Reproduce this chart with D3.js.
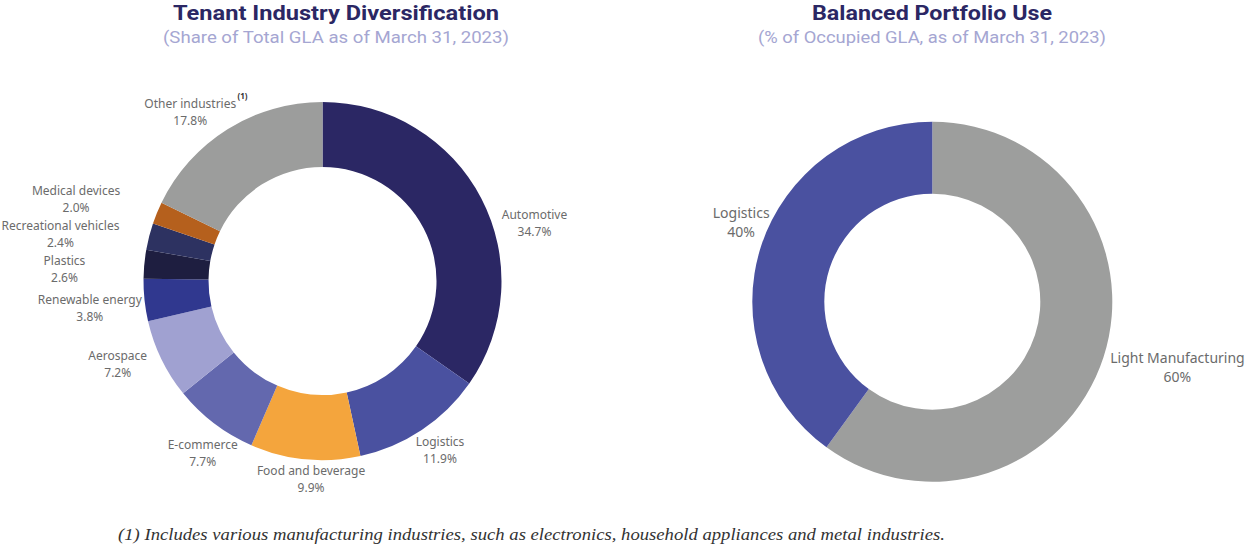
<!DOCTYPE html>
<html>
<head>
<meta charset="utf-8">
<script src="https://cdn.jsdelivr.net/npm/d3@7"></script>
<style>
  html, body { margin: 0; padding: 0; background: #ffffff; }
  svg { display: block; }
</style>
</head>
<body>
<svg id="chart" width="1246" height="546"></svg>
<script>
// ---- Data ----
const industryNames = ["Automotive", "Logistics", "Food and beverage", "E-commerce", "Aerospace",
  "Renewable energy", "Plastics", "Recreational vehicles", "Medical devices", "Other industries"];
const industryShares = [34.7, 11.9, 9.9, 7.7, 7.2, 3.8, 2.6, 2.4, 2.0, 17.8];
const industryLabels = ["34.7%", "11.9%", "9.9%", "7.7%", "7.2%", "3.8%", "2.6%", "2.4%", "2.0%", "17.8%"];
const useNames = ["Light Manufacturing", "Logistics"];
const useShares = [60, 40];
const useLabels = ["60%", "40%"];

// ---- Styles / layout ----
const industryColors = ["#2b2764", "#4a51a0", "#f4a53d", "#6368ae", "#a0a1d1",
  "#30388f", "#1e1e40", "#2d3261", "#b5601d", "#9c9d9c"];
const useColors = ["#9d9e9d", "#4a51a0"];
// label nudges relative to centroid of a label ring (layout only)
const industryNudge = [[16, 44], [-5, -15], [10, -22], [14, -4], [-6, -13], [-13, 4], [-38, 9], [-48, 8], [-42, 2], [-15, 19]];
const useNudge = [[34, -3], [20, -11]];

const svg = d3.select("#chart");
const labelColor = "#6b6b6b";

function donut(cfg) {
  const g = svg.append("g").attr("transform", `translate(${cfg.cx},${cfg.cy})`);
  const pie = d3.pie().sort(null).value(d => d);
  const arcs = pie(cfg.values);
  const arc = d3.arc().innerRadius(cfg.inner).outerRadius(cfg.outer);
  const labelArc = d3.arc().innerRadius(cfg.labelR).outerRadius(cfg.labelR);
  g.selectAll("path").data(arcs).join("path")
    .attr("d", arc)
    .attr("fill", (d, i) => cfg.colors[i]);
  const lab = g.selectAll("g.lab").data(arcs).join("g").attr("class", "lab")
    .attr("transform", (d, i) => {
      const c = labelArc.centroid(d);
      return `translate(${c[0] + cfg.nudge[i][0]},${c[1] + cfg.nudge[i][1]})`;
    });
  lab.each(function(d, i) {
    const s = d3.select(this);
    const t1 = s.append("text")
      .attr("text-anchor", "middle")
      .attr("y", -cfg.lineGap / 2)
      .attr("dy", "0.35em")
      .attr("font-family", "'Noto Sans', sans-serif")
      .attr("font-size", cfg.fontSize)
      .attr("fill", labelColor)
      .text(cfg.names[i]);
    s.append("text")
      .attr("text-anchor", "middle")
      .attr("y", cfg.lineGap / 2)
      .attr("dy", "0.35em")
      .attr("font-family", "'Noto Sans', sans-serif")
      .attr("font-size", cfg.fontSize)
      .attr("fill", labelColor)
      .text(cfg.labels[i]);
    if (cfg.sup && cfg.sup[i]) {
      const bb = t1.node().getBBox();
      s.append("text")
        .attr("x", bb.x + bb.width + 1)
        .attr("y", -cfg.lineGap / 2 - 5)
        .attr("font-family", "'Noto Sans', sans-serif")
        .attr("font-size", 8)
        .attr("font-weight", "bold")
        .attr("fill", "#333")
        .text(cfg.sup[i]);
    }
  });
}

function titles(cx, title, sub, tw, sw) {
  svg.append("text").attr("x", cx).attr("y", 20)
    .attr("text-anchor", "middle")
    .attr("font-family", "Roboto, sans-serif")
    .attr("font-weight", "bold").attr("font-size", 20)
    .attr("textLength", tw).attr("lengthAdjust", "spacingAndGlyphs")
    .attr("fill", "#2b2764").text(title);
  svg.append("text").attr("x", cx).attr("y", 43)
    .attr("text-anchor", "middle")
    .attr("font-family", "Roboto, sans-serif")
    .attr("font-size", 17)
    .attr("textLength", sw).attr("lengthAdjust", "spacingAndGlyphs")
    .attr("fill", "#a5a6d2").text(sub);
}

titles(336, "Tenant Industry Diversification", "(Share of Total GLA as of March 31, 2023)", 326, 346);
titles(932, "Balanced Portfolio Use", "(% of Occupied GLA, as of March 31, 2023)", 240, 348);

donut({cx: 322.5, cy: 281, outer: 179, inner: 114, labelR: 221,
  values: industryShares, names: industryNames, labels: industryLabels,
  colors: industryColors, nudge: industryNudge, fontSize: 12, lineGap: 17,
  sup: [null, null, null, null, null, null, null, null, null, "(1)"]});

donut({cx: 932.3, cy: 301.7, outer: 180, inner: 108, labelR: 222,
  values: useShares, names: useNames, labels: useLabels,
  colors: useColors, nudge: useNudge, fontSize: 14, lineGap: 19});

svg.append("text").attr("x", 118).attr("y", 540)
  .attr("font-family", "'Liberation Serif', 'Times New Roman', serif")
  .attr("font-style", "italic").attr("font-size", 17)
  .attr("fill", "#333")
  .attr("textLength", 827).attr("lengthAdjust", "spacingAndGlyphs")
  .text("(1) Includes various manufacturing industries, such as electronics, household appliances and metal industries.");
</script>
</body>
</html>
